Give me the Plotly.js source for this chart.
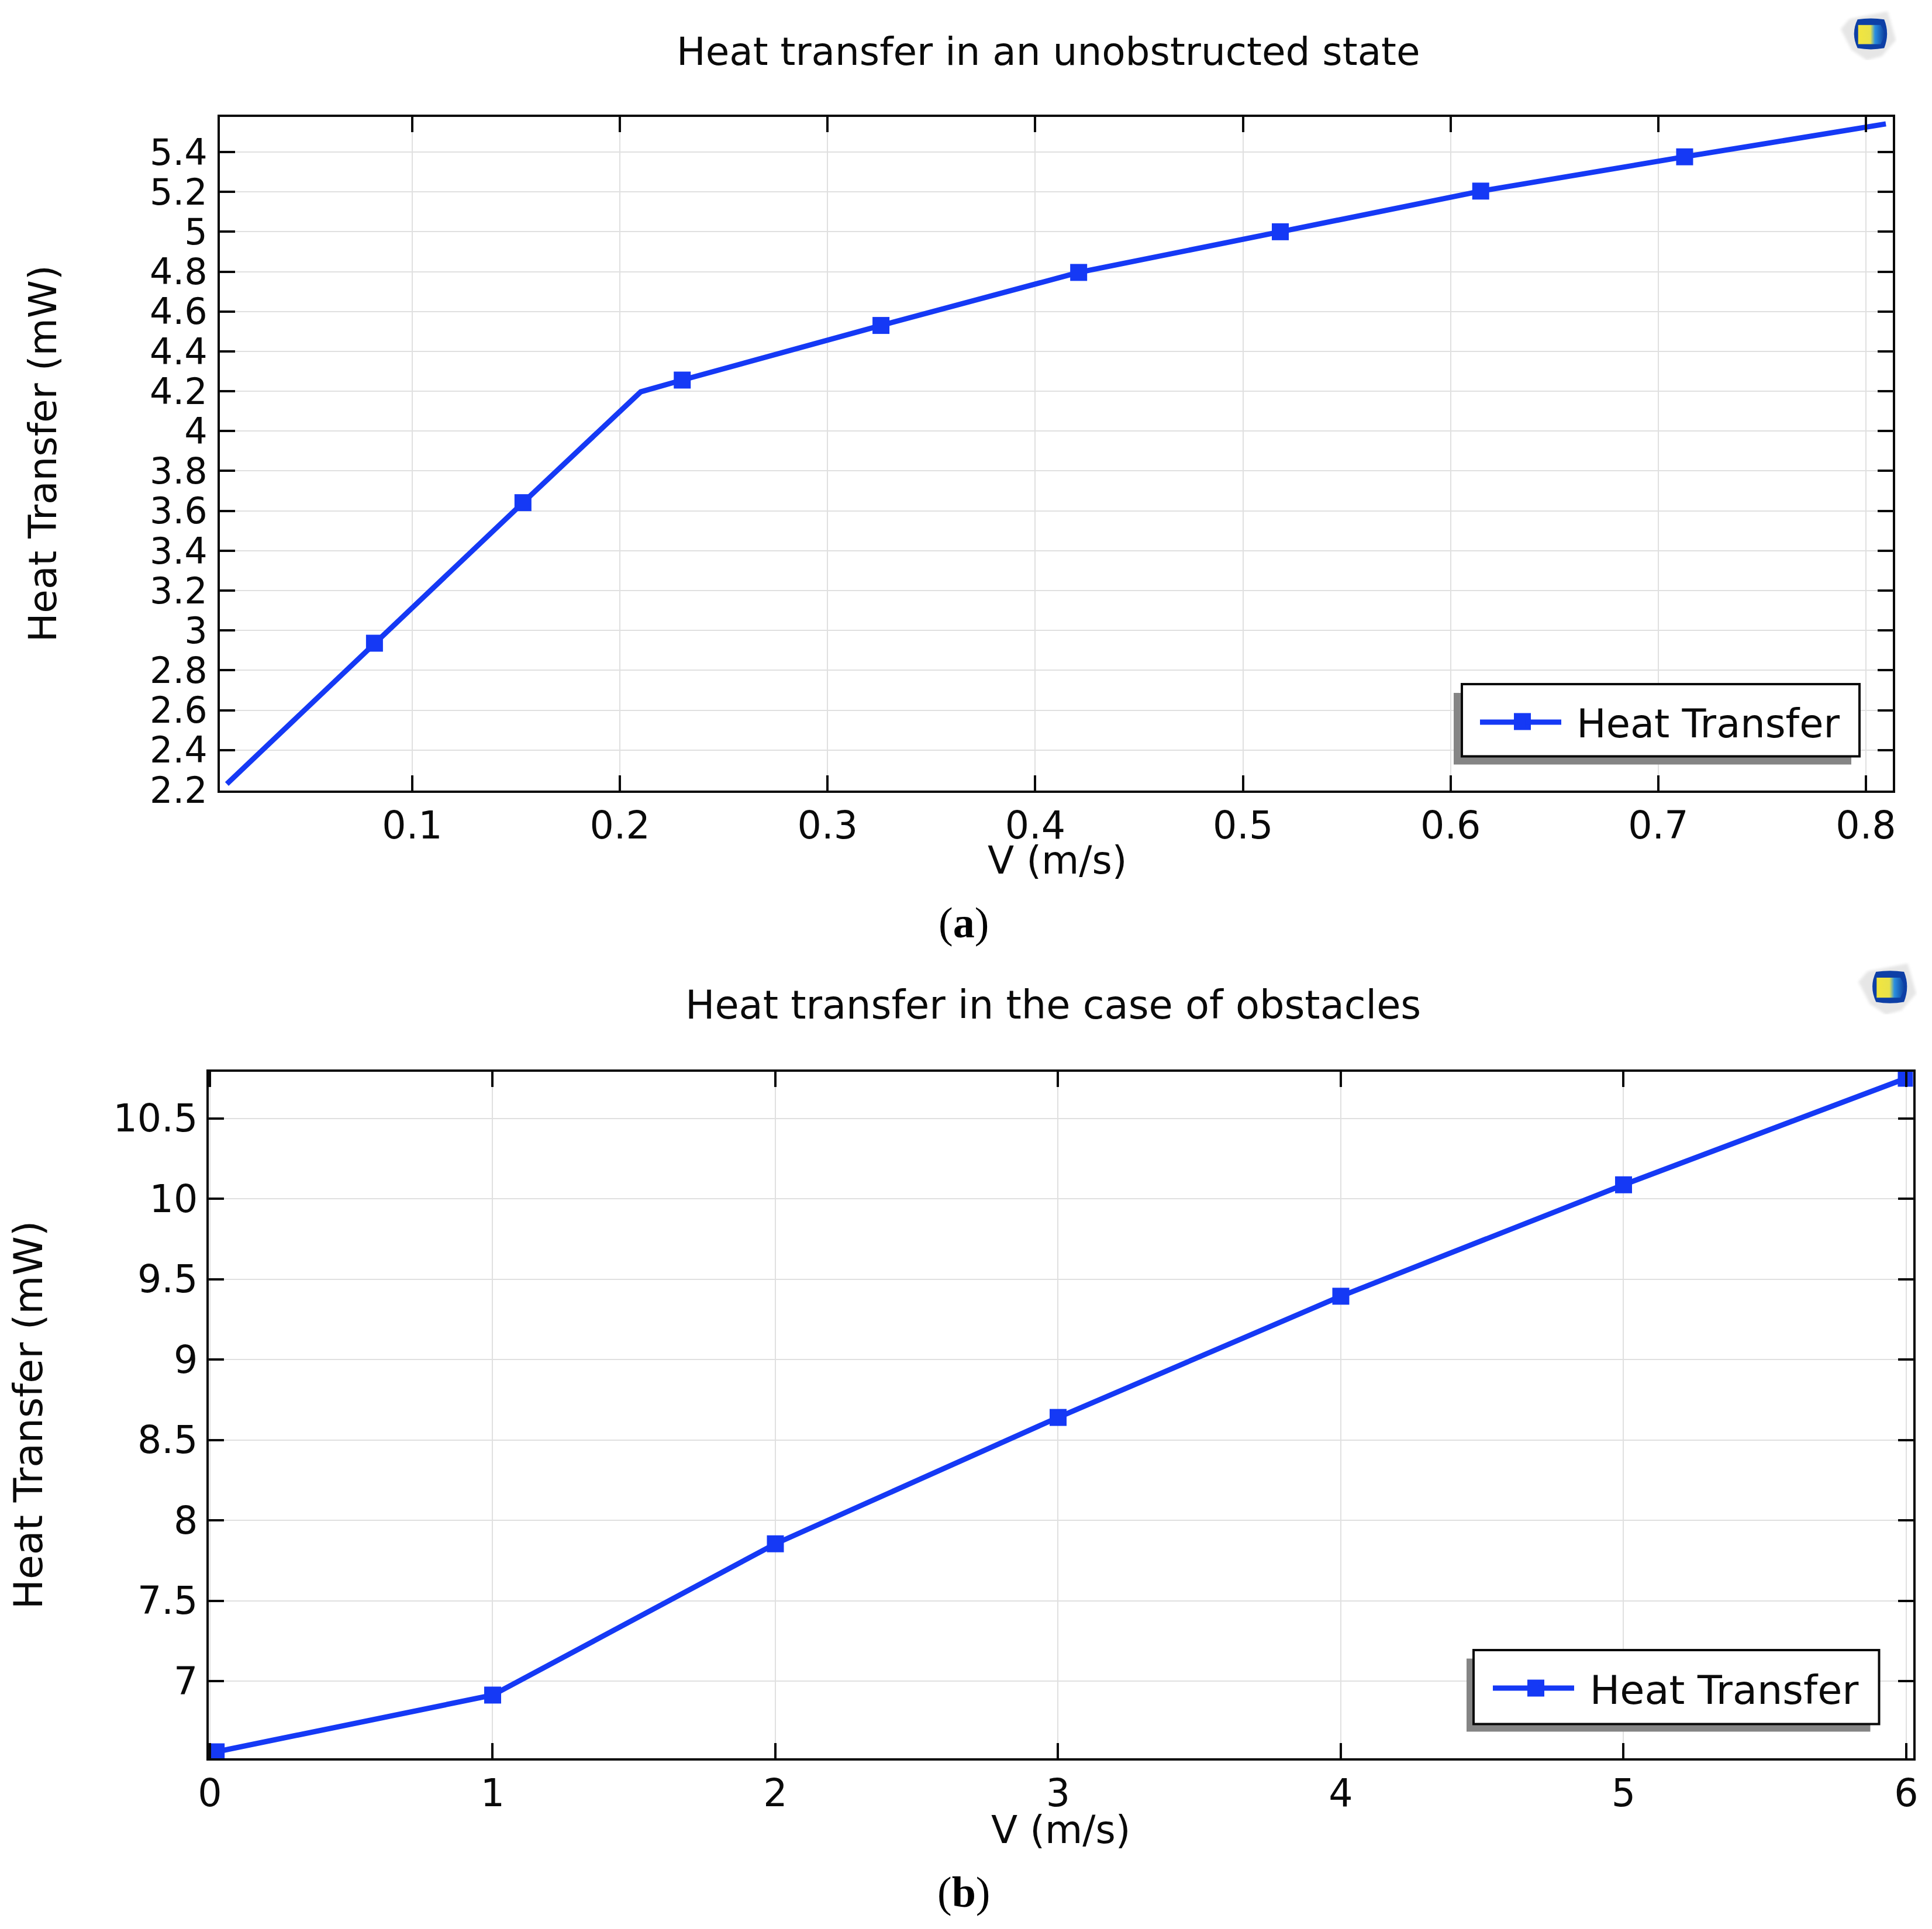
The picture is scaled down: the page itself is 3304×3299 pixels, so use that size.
<!DOCTYPE html>
<html>
<head>
<meta charset="utf-8">
<script src="https://cdn.plot.ly/plotly-3.0.1.min.js"></script>
<style>html,body{margin:0;padding:0;background:#fff}#chart{width:3304px;height:3299px}</style>
</head>
<body>
<div id="chart"></div>
<script>
// ---- data ----
var velocityA = [0.0107, 0.0818, 0.1533, 0.210, 0.230, 0.3257, 0.4209, 0.518, 0.6145, 0.7127, 0.8096];
var heatA     = [2.23, 2.936, 3.641, 4.197, 4.256, 4.53, 4.796, 5.0, 5.204, 5.376, 5.541];
var markedA   = [false, true, true, false, true, true, true, true, true, true, false];

var velocityB = [0.022, 1, 2, 3, 4, 5, 6];
var heatB     = [6.56, 6.913, 7.854, 8.64, 9.394, 10.087, 10.75];
var markedB   = [true, true, true, true, true, true, true];

var xTicksA = [0.1, 0.2, 0.3, 0.4, 0.5, 0.6, 0.7, 0.8];
var xLabelsA = ['0.1', '0.2', '0.3', '0.4', '0.5', '0.6', '0.7', '0.8'];
var yTicksA = [2.2, 2.4, 2.6, 2.8, 3, 3.2, 3.4, 3.6, 3.8, 4, 4.2, 4.4, 4.6, 4.8, 5, 5.2, 5.4];
var yLabelsA = ['2.2', '2.4', '2.6', '2.8', '3', '3.2', '3.4', '3.6', '3.8', '4', '4.2', '4.4', '4.6', '4.8', '5', '5.2', '5.4'];
var xTicksB = [0, 1, 2, 3, 4, 5, 6];
var xLabelsB = ['0', '1', '2', '3', '4', '5', '6'];
var yTicksB = [7, 7.5, 8, 8.5, 9, 9.5, 10, 10.5];
var yLabelsB = ['7', '7.5', '8', '8.5', '9', '9.5', '10', '10.5'];

// The non-breaking space sets the reference's gap between legend sample and text.
var seriesName = '\u00A0Heat Transfer';
var titleA = 'Heat transfer in an unobstructed state';
var titleB = 'Heat transfer in the case of obstacles';
var xTitle = 'V (m/s)';
var yTitle = 'Heat Transfer (mW)';

// ---- page geometry and style ----
var W = 3304, H = 3299;
var BLUE = '#1539f5', INK = '#0a0a0a', GRID = '#e0e0e0';
var FONT = '"DejaVu Sans", sans-serif';
var MARKER = 29;
function px(v) { return v / W; }
function py(v) { return 1 - v / H; }
function sizes(flags) { return flags.map(function (f) { return f ? MARKER : 0; }); }

function axis(lw, range, vals, text, domain, anchor, title, standoff, labelGap, tickSize, titleSize) {
  var ax = {
    showline: true, linecolor: INK, linewidth: lw, mirror: 'ticks',
    ticks: 'inside', ticklen: 26, tickwidth: 3.5, tickcolor: INK,
    showgrid: true, gridcolor: GRID, gridwidth: 2, zeroline: false,
    tickmode: 'array', tickfont: {family: FONT, size: tickSize, color: INK},
    ticklabelstandoff: labelGap,
    range: range, tickvals: vals, ticktext: text, domain: domain, anchor: anchor
  };
  if (title) ax.title = {text: title, font: {family: FONT, size: titleSize, color: INK}, standoff: standoff};
  return ax;
}
function trace(xs, ys, flags, xa, ya, legend) {
  return {
    x: xs, y: ys, xaxis: xa, yaxis: ya, legend: legend, name: seriesName,
    type: 'scatter', mode: 'lines+markers',
    line: {color: BLUE, width: 9},
    marker: {color: BLUE, symbol: 'square', size: sizes(flags), opacity: 1, line: {width: 0}}
  };
}
function rectShape(x0, y0, x1, y1, fill, line, lw) {
  return {type: 'rect', xref: 'paper', yref: 'paper', layer: 'above',
    x0: px(x0), x1: px(x1), y0: py(y0), y1: py(y1), fillcolor: fill,
    line: {color: line, width: lw}};
}
function label(text, x, y, font) {
  return {text: text, xref: 'paper', yref: 'paper', x: px(x), y: py(y),
    xanchor: 'center', yanchor: 'middle', showarrow: false, font: font};
}
function logo(x, y, w, h) {
  var svg = '<svg xmlns="http://www.w3.org/2000/svg" viewBox="0 0 100 100" preserveAspectRatio="none">' +
    '<defs><filter id="f"><feGaussianBlur stdDeviation="2.5"/></filter>' +
    '<linearGradient id="g" x1="0" x2="1" y1="0" y2="0"><stop offset="0" stop-color="#f2e53f"/>' +
    '<stop offset="0.45" stop-color="#e8e24a"/><stop offset="0.62" stop-color="#2a8fe0"/><stop offset="1" stop-color="#0b3a9a"/></linearGradient></defs>' +
    '<path d="M18 18 L84 3 L98 60 L74 92 L48 100 L22 80 L3 38 Z" fill="#e6e6e6" filter="url(#f)"/>' +
    '<path d="M32 19 Q55 15 78 19 Q88 47 78 76 Q55 81 32 76 Q20 47 32 19 Z" fill="#0d3fa6"/>' +
    '<path d="M33 30 L72 30 L80 47 L72 68 L33 68 Z" fill="url(#g)"/>' +
    '</svg>';
  return {source: 'data:image/svg+xml;base64,' + btoa(svg), xref: 'paper', yref: 'paper',
    x: px(x), y: py(y), sizex: w / W, sizey: h / H, xanchor: 'left', yanchor: 'top',
    sizing: 'stretch', layer: 'above'};
}
function legendStyle(x, y, size) {
  return {x: px(x), y: py(y), xanchor: 'left', yanchor: 'top', bgcolor: 'rgba(0,0,0,0)',
    borderwidth: 0, itemwidth: 139, font: {family: FONT, size: size, color: INK}};
}

var titleFont = {family: FONT, size: 66, color: INK};
var titleFontB = {family: FONT, size: 67, color: INK};
var axisTitleFont = {family: FONT, size: 66, color: INK};
var capFont = {family: '"Liberation Serif", serif', size: 74, color: '#000000'};

var layout = {
  width: W, height: H, margin: {l: 0, r: 0, t: 0, b: 0},
  paper_bgcolor: '#ffffff', plot_bgcolor: '#ffffff', showlegend: true,
  xaxis: axis(4, [0.00735, 0.81295], xTicksA, xLabelsA, [px(376), px(3237)], 'y', null, 0, 0, 65, 66),
  yaxis: axis(4, [2.198, 5.576], yTicksA, yLabelsA, [py(1351.6), py(200)], 'x', yTitle, 139, 5, 62, 66),
  xaxis2: axis(3.5, [-0.0041, 6.0238], xTicksB, xLabelsB, [px(357), px(3271.5)], 'y2', null, 0, 0, 65, 66),
  yaxis2: axis(3.5, [6.52, 10.79], yTicksB, yLabelsB, [py(3007), py(1833)], 'x2', yTitle, 100, 2, 65, 68),
  legend: legendStyle(2526, 1185, 67),
  legend2: legendStyle(2548, 2836, 68.5),
  shapes: [
    rectShape(2486, 1185, 3166, 1307.6, '#858585', '#858585', 0),
    rectShape(2500, 1170, 3180, 1293.6, '#ffffff', '#0a0a0a', 4),
    rectShape(2589, 1219.5, 2618, 1248.5, BLUE, BLUE, 0),
    rectShape(2508, 2836.5, 3198.5, 2961.5, '#858585', '#858585', 0),
    rectShape(2520, 2822, 3213.5, 2948.5, '#ffffff', '#0a0a0a', 4),
    rectShape(2612, 2872.5, 2641, 2901.5, BLUE, BLUE, 0)
  ],
  annotations: [
    label(titleA, 1793, 88, titleFont),
    label(titleB, 1801, 1719, titleFontB),
    label(xTitle, 1808, 1471, axisTitleFont),
    label(xTitle, 1814, 3129, axisTitleFont),
    label('(<b>a</b>)', 1648, 1578, capFont),
    label('(<b>b</b>)', 1648, 3236, capFont)
  ],
  images: [logo(3145, 17, 99, 86), logo(3175, 1645, 104, 90)]
};

var traces = [
  trace(velocityA, heatA, markedA, 'x', 'y', 'legend'),
  trace(velocityB, heatB, markedB, 'x2', 'y2', 'legend2')
];
Plotly.newPlot('chart', traces, layout, {displayModeBar: false, responsive: false});
</script>
</body>
</html>
